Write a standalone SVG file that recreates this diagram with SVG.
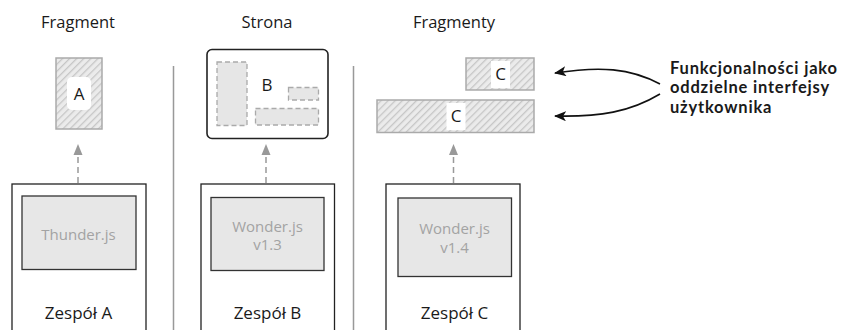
<svg xmlns="http://www.w3.org/2000/svg" width="846" height="330" viewBox="0 0 846 330">
<defs>
<pattern id="hatch" patternUnits="userSpaceOnUse" width="5" height="5" patternTransform="rotate(45)">
<rect width="5" height="5" fill="#ebebeb"/>
<line x1="0" y1="0" x2="0" y2="5" stroke="#c6c6c6" stroke-width="2.6"/>
</pattern>
<marker id="bk" markerWidth="12" markerHeight="10" refX="11" refY="5" orient="auto" markerUnits="userSpaceOnUse" viewBox="0 0 12 10">
<path d="M0,0 L12,5 L0,10 L3,5 Z" fill="#111"/>
</marker>
</defs>
<style>
text{font-family:"Open Sans","Noto Sans",sans-serif;fill:#1a1a1a}
.h{font-size:16.5px;text-anchor:middle}
.t{font-size:17px;text-anchor:middle}
.g{font-size:15px;text-anchor:middle;fill:#a3a3a3}
.lb{font-size:17px;text-anchor:middle}
.b{font-family:Lato,"Open Sans",sans-serif;font-size:16.5px;font-weight:bold;letter-spacing:0.8px}
.team{fill:#fff;stroke:#222;stroke-width:1.3}
.lib{fill:#e7e7e7;stroke:#333;stroke-width:1.3}
.frag{fill:url(#hatch);stroke:#aaa;stroke-width:1.5}
.dash{fill:#e6e6e6;stroke:#aaa;stroke-width:1.3;stroke-dasharray:5 3}
.div{stroke:#999;stroke-width:1.5}
.dl{stroke:#999;stroke-width:1.5;stroke-dasharray:6 4;fill:none}
.ah{fill:#999}
.cv{fill:none;stroke:#111;stroke-width:1.6}
</style>
<g id="headers">
<text class="h" x="78" y="28">Fragment</text>
<text class="h" x="267" y="28">Strona</text>
<text class="h" x="454" y="28">Fragmenty</text>
</g>
<g id="dividers">
<line class="div" x1="173.5" y1="66" x2="173.5" y2="330"/>
<line class="div" x1="353.5" y1="66" x2="353.5" y2="330"/>
</g>
<g id="fragmentA">
<rect class="frag" x="56" y="58" width="46" height="71"/>
<rect x="67" y="77" width="24" height="33" rx="5" fill="#fff"/>
<text class="lb" x="79" y="100">A</text>
</g>
<g id="pageB">
<rect x="207" y="49.5" width="121" height="89" rx="5" fill="#fff" stroke="#222" stroke-width="1.6"/>
<rect class="dash" x="217" y="62" width="30" height="63.5"/>
<rect class="dash" x="288.5" y="87.5" width="30" height="12.5"/>
<rect class="dash" x="255.5" y="108.5" width="63" height="16.5"/>
<text class="lb" x="267" y="91">B</text>
</g>
<g id="fragmentC1">
<rect class="frag" x="466" y="58" width="68" height="32"/>
<rect x="491" y="61" width="19" height="27" fill="#fff"/>
<text class="lb" x="500.5" y="80">C</text>
</g>
<g id="fragmentC2">
<rect class="frag" x="377" y="100" width="157" height="32.5"/>
<rect x="446.5" y="103" width="19" height="27" fill="#fff"/>
<text class="lb" x="456" y="122">C</text>
</g>
<g id="teamA">
<rect class="team" x="12" y="184" width="134" height="150"/>
<rect class="lib" x="22" y="196" width="114" height="73.5"/>
<text class="g" x="78.5" y="240">Thunder.js</text>
<text class="t" x="78.5" y="319">Zespół A</text>
</g>
<g id="teamB">
<rect class="team" x="201" y="184" width="133.5" height="150"/>
<rect class="lib" x="211" y="197.5" width="113" height="73"/>
<text class="g" x="267.5" y="231.5">Wonder.js</text>
<text class="g" x="267.5" y="250">v1.3</text>
<text class="t" x="267.5" y="319">Zespół B</text>
</g>
<g id="teamC">
<rect class="team" x="386" y="184" width="134" height="150"/>
<rect class="lib" x="398" y="198" width="113.5" height="78.5"/>
<text class="g" x="454.5" y="234">Wonder.js</text>
<text class="g" x="454.5" y="252.5">v1.4</text>
<text class="t" x="454.5" y="319">Zespół C</text>
</g>
<g id="note">
<text class="b" x="670" y="73.5">Funkcjonalności jako</text>
<text class="b" x="670" y="93">oddzielne interfejsy</text>
<text class="b" x="670" y="112.5">użytkownika</text>
</g>
<g id="connectors">
<line class="dl" x1="78" y1="183" x2="78" y2="153"/>
<path class="ah" d="M78,144 L82.5,155 L73.5,155 Z"/>
<line class="dl" x1="266" y1="183" x2="266" y2="153"/>
<path class="ah" d="M266,144 L270.5,155 L261.5,155 Z"/>
<line class="dl" x1="453.5" y1="183" x2="453.5" y2="153"/>
<path class="ah" d="M453.5,144 L458,155 L449,155 Z"/>
<path class="cv" d="M660,84 C630,68 600,66 555,73" marker-end="url(#bk)"/>
<path class="cv" d="M660,94 C630,112 600,117 555,116" marker-end="url(#bk)"/>
</g>
</svg>
